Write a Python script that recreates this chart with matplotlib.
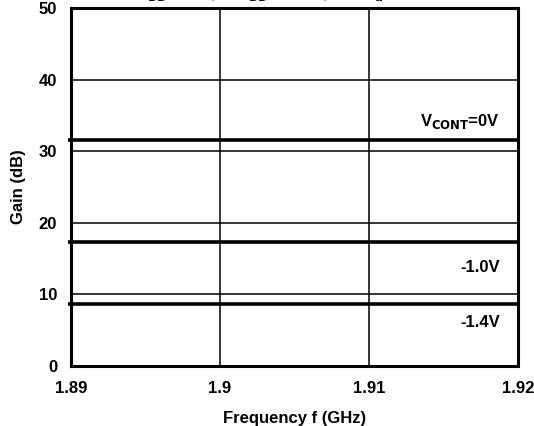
import matplotlib.pyplot as plt
import numpy as np

plt.rcParams['font.family'] = ['Liberation Sans', 'DejaVu Sans']
plt.rcParams['font.weight'] = 'bold'
plt.rcParams['mathtext.default'] = 'bf'

freq = [1.8898, 1.92]
gain_0v = [31.5, 31.5]
gain_m10 = [17.3, 17.3]
gain_m14 = [8.6, 8.6]
labels = [r'V$_{\mathbf{CONT}}$=0V', '-1.0V', '-1.4V']
label_y = [34.2, 13.7, 6.1]

xticks = [1.89, 1.9, 1.91, 1.92]
xtick_labels = ['1.89', '1.9', '1.91', '1.92']
yticks = [0, 10, 20, 30, 40, 50]

fig = plt.figure(figsize=(5.34, 4.26), dpi=100)
ax = fig.add_axes([0.133, 0.141, 0.837, 0.840])

for g in [gain_0v, gain_m10, gain_m14]:
	ax.plot(freq, g, color='black', linewidth=2.6, clip_on=False, solid_capstyle='butt', zorder=3)

for t, y in zip(labels, label_y):
	ax.text(1.9188, y, t, ha='right', va='center', fontsize=12, fontweight='bold')

ax.set_xlim(1.89, 1.92)
ax.set_ylim(0, 50)
ax.set_xticks(xticks)
ax.set_xticklabels(xtick_labels)
ax.set_yticks(yticks)
ax.grid(True, color='black', linewidth=1.1)
ax.tick_params(length=0, labelsize=12)
ax.tick_params(axis='x', pad=10.5)
ax.tick_params(axis='y', pad=10)
for s in ax.spines.values():
	s.set_linewidth(2.2)

ax.set_xlabel('Frequency f (GHz)', fontsize=12, fontweight='bold', labelpad=11)
ax.set_ylabel('Gain (dB)', fontsize=12, fontweight='bold', labelpad=9)

# title sits mostly above the figure, only the subscripts show
fig.text(0.532, 1.005, r'V$_{\mathbf{DD}}$=3.0V,      I$_{\mathbf{DD}}$=10mA,        T$_{\mathbf{a}}$=25$\degree$C',
	ha='center', va='baseline', fontsize=12, fontweight='bold')

plt.savefig('out.png', dpi=100)
